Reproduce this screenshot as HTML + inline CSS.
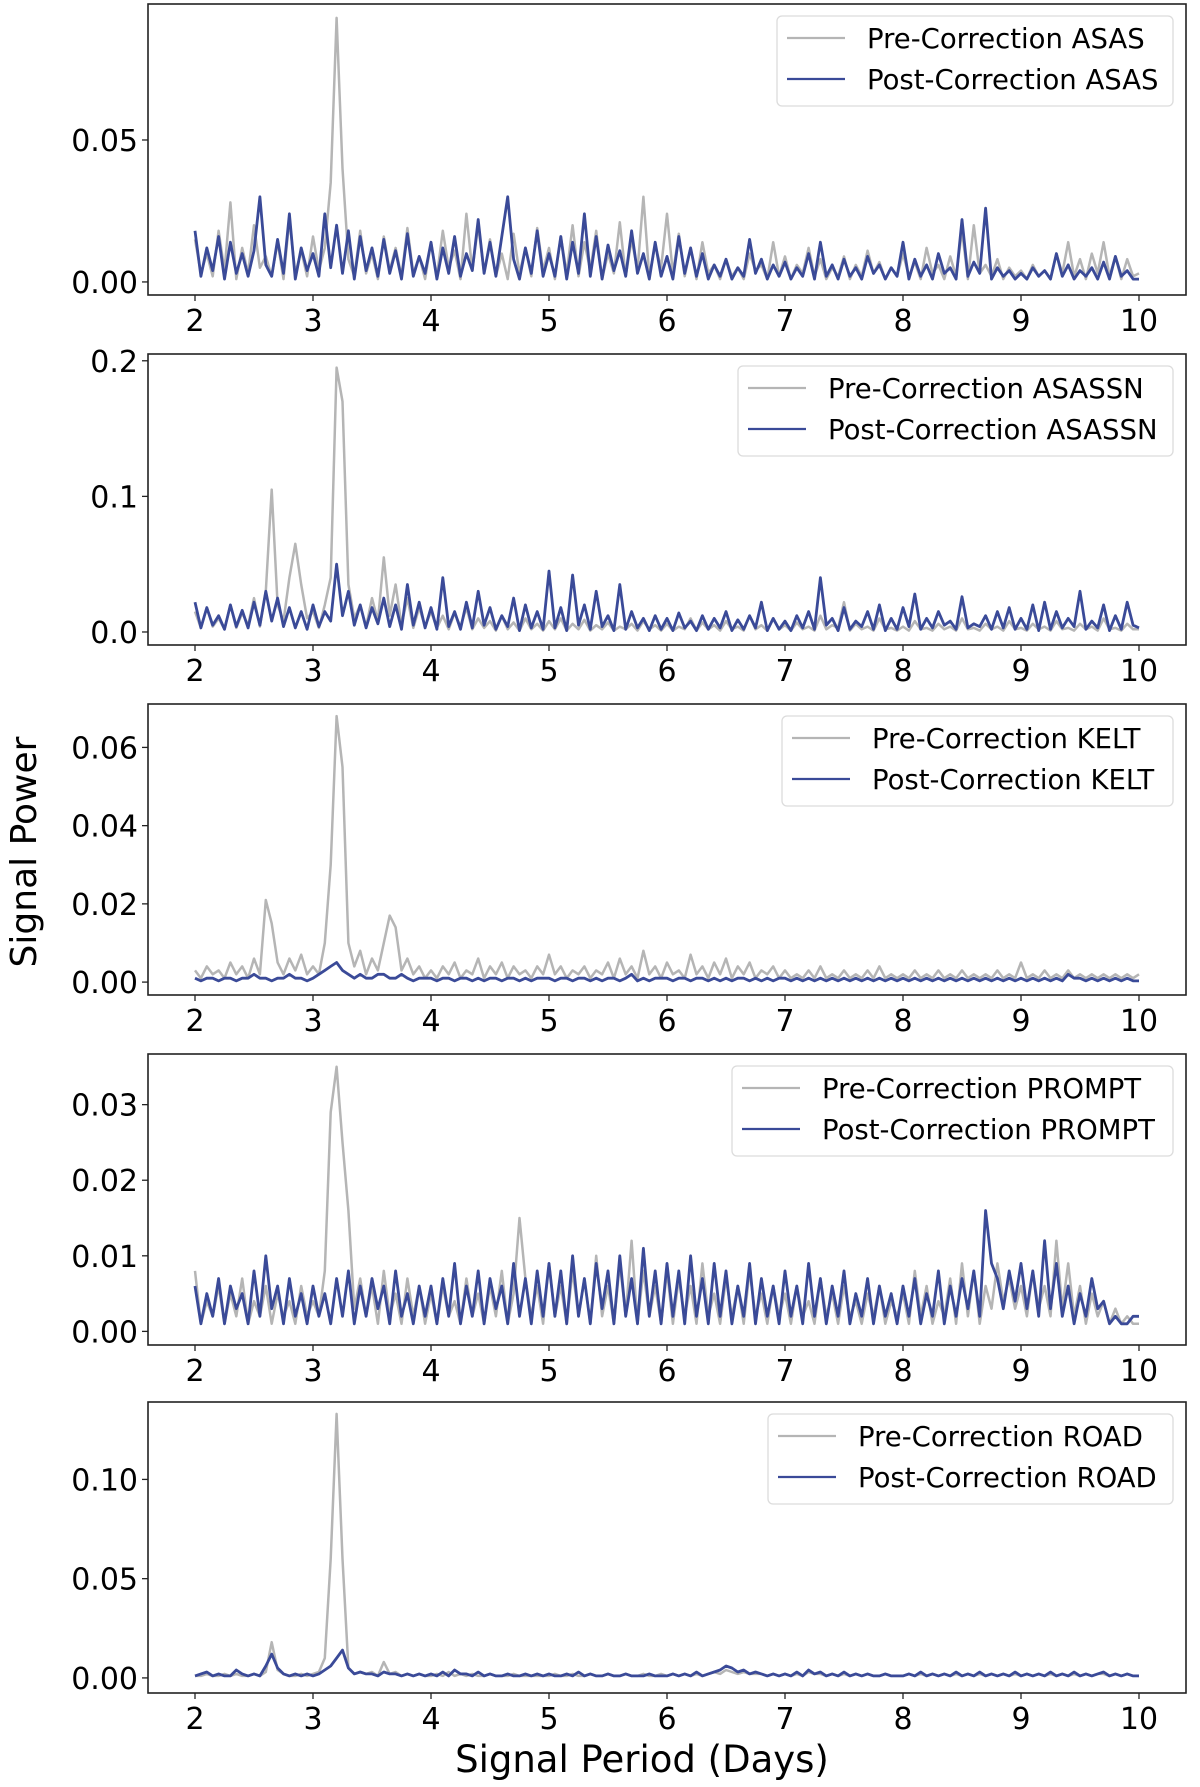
<!DOCTYPE html>
<html><head><meta charset="utf-8"><style>
html,body{margin:0;padding:0;background:#fff;}
svg{display:block;font-family:"DejaVu Sans","Liberation Sans",sans-serif;}
</style></head><body>
<svg id="fig" width="1200" height="1787" viewBox="0 0 1200 1787" xmlns="http://www.w3.org/2000/svg">
<text x="0" y="0" transform="translate(36,852) rotate(-90)" text-anchor="middle" font-size="36" fill="#000">Signal Power</text>
<text x="642" y="1772" text-anchor="middle" font-size="37" fill="#000">Signal Period (Days)</text>
</svg>
<script>
// values in units of 1e-3 (multiplied by UNIT), sampled at periods 2.00..10.00 step 0.05
const UNIT = 0.001;
const periodStart = 2, periodStep = 0.05;
const xTicks = [2,3,4,5,6,7,8,9,10];

const asasPre = [15,3,10,2,18,4,28,1,12,3,20,5,9,2,14,1,22,3,11,2,
16,4,12,35,93,40,8,2,18,3,10,1,16,4,12,2,19,3,9,1,
14,2,18,5,11,1,24,4,20,3,15,2,10,1,17,3,12,2,19,4,
12,1,16,3,20,2,14,4,18,1,10,3,21,2,15,4,30,2,13,5,
24,3,17,2,12,1,14,3,6,1,8,2,5,1,10,4,6,1,14,2,
9,1,6,3,12,2,8,1,5,2,9,1,6,2,11,3,7,1,5,2,
10,2,7,1,12,3,6,1,9,2,18,1,20,3,6,2,8,1,5,2,
4,1,6,2,4,1,10,3,14,2,8,1,10,3,14,2,9,1,8,2,3];
const asasPost = [18,2,12,4,16,1,14,3,10,2,11,30,6,2,15,3,24,1,12,4,
10,2,24,5,20,3,18,1,16,4,12,2,15,3,11,1,17,2,9,3,
14,1,12,3,16,2,10,4,22,3,14,2,16,30,8,1,12,3,18,2,
10,2,16,1,14,3,24,2,16,1,13,4,11,2,18,3,10,1,14,2,
9,1,16,3,12,2,10,1,6,2,8,1,5,2,15,3,8,1,6,2,
7,1,5,2,10,1,14,2,6,1,8,2,5,1,9,3,6,1,5,2,
14,1,8,2,6,1,10,3,5,1,22,2,7,3,26,1,5,2,4,1,
3,1,5,2,4,1,10,2,6,1,4,2,5,1,7,1,9,2,4,1,1];
const asassnPre = [15,3,18,4,10,2,20,3,14,5,25,4,30,105,20,8,40,65,35,10,
15,3,20,40,195,170,35,10,20,4,25,8,55,12,35,5,25,3,18,4,
15,3,12,2,14,4,18,2,10,3,8,1,12,2,7,1,10,2,6,1,
8,2,10,1,6,2,9,1,5,2,7,1,4,2,6,1,8,2,5,1,
6,1,4,2,10,1,7,2,5,1,8,2,4,1,12,2,5,1,10,2,
5,1,7,2,4,1,12,2,5,3,22,1,6,2,4,1,10,2,3,1,
4,1,8,2,3,1,6,2,4,1,10,2,3,1,6,2,4,1,8,2,
3,1,6,2,4,1,8,2,3,1,6,2,4,1,10,2,3,1,6,2,2];
const asassnPost = [22,3,18,5,12,2,20,4,16,3,22,5,30,8,25,4,18,3,15,2,
20,4,15,8,50,12,30,5,20,3,18,6,25,4,20,2,35,5,22,3,
18,2,40,4,15,2,22,3,30,5,18,2,12,4,25,1,20,3,15,2,
45,3,18,1,42,5,20,2,30,4,12,1,35,2,15,3,10,1,12,2,
10,1,14,3,8,1,12,2,10,3,15,1,9,2,12,3,22,1,10,2,
8,1,12,3,15,2,40,5,10,1,18,2,8,4,15,2,20,1,10,2,
18,4,28,2,10,3,15,5,8,2,26,3,6,4,12,2,15,3,18,2,
10,2,20,1,22,2,15,3,10,4,30,2,8,3,20,1,12,2,22,5,3];
const keltPre = [3,1,4,2,3,1,5,2,4,1,6,2,21,15,5,2,6,3,7,2,
4,2,10,30,68,55,10,4,8,2,6,3,10,17,14,3,6,2,4,1,
3,1,4,2,5,1,3,2,6,1,4,2,5,1,4,2,3,1,4,2,
7,2,4,1,3,2,4,1,3,2,5,1,6,2,4,1,8,2,4,1,
5,2,3,1,7,2,4,1,5,2,6,1,4,2,5,1,3,2,4,1,
3,1,2,1,3,1,4,1,2,1,3,1,2,1,3,1,4,1,2,1,
2,1,3,1,2,1,3,1,2,1,3,1,2,1,2,1,3,1,2,1,
5,1,2,1,3,1,2,1,3,1,2,1,2,1,2,1,2,1,2,1,2];
const keltPost = [1,0.3,1,1,0.3,1,1,0.3,1,1,2,1,1,0.3,1,1,2,1,1,0.3,
1,2,3,4,5,3,2,1,2,1,1,2,2,1,1,2,1,0.3,1,1,
1,0.3,1,1,0.3,1,1,0.3,1,0.3,1,1,0.3,1,1,0.3,1,0.3,1,1,
1,0.3,1,1,0.3,1,1,0.3,1,0.3,1,1,0.3,1,2,0.3,1,0.3,1,1,
1,0.3,1,1,0.3,1,1,0.3,1,0.3,1,0.3,1,1,0.3,1,0.3,1,0.3,1,
1,0.3,1,0.3,1,0.3,1,0.3,1,0.3,1,0.3,1,0.3,1,0.3,1,0.3,1,0.3,
1,0.3,1,0.3,1,0.3,1,0.3,1,0.3,1,0.3,1,0.3,1,0.3,1,0.3,1,0.3,
1,0.3,1,0.3,1,0.3,1,0.3,2,1,1,0.3,1,0.3,1,0.3,1,0.3,1,0.3,0.3];
const promptPre = [8,1,4,2,6,1,5,2,7,1,4,2,6,1,5,2,4,1,6,2,
4,2,8,29,35,25,16,3,7,2,6,1,8,2,5,1,7,2,6,1,
5,1,6,2,4,1,7,2,5,1,6,2,8,1,5,15,7,2,6,1,
9,2,6,1,8,2,7,1,10,2,6,1,9,2,12,1,8,2,6,1,
8,1,7,2,6,1,9,2,5,1,7,2,6,1,8,2,5,1,6,2,
5,1,6,2,4,1,7,2,5,1,6,2,4,1,5,2,6,1,4,2,
5,1,8,2,6,1,4,2,7,1,9,2,8,1,6,3,9,4,7,3,
6,2,8,3,6,2,12,3,9,2,6,1,5,2,4,1,3,1,2,1,1];
const promptPost = [6,1,5,2,7,1,6,3,5,1,8,2,10,3,6,1,7,2,5,1,
6,2,5,1,7,2,8,1,6,2,7,3,6,1,8,2,5,1,6,2,
6,1,7,2,9,1,6,2,8,1,7,3,6,1,9,2,7,1,8,2,
9,2,8,1,10,2,7,1,9,3,8,1,10,2,7,1,11,2,8,1,
9,2,8,1,10,2,7,1,9,2,8,1,6,2,9,1,7,2,6,1,
8,2,6,1,9,2,7,1,6,2,8,1,5,2,7,1,6,2,5,1,
6,2,7,1,5,2,8,1,6,2,7,3,8,2,16,9,7,3,8,4,
9,3,8,2,12,3,9,2,6,1,5,2,7,3,4,1,2,1,1,2,2];
const roadPre = [1,1,2,1,1,2,1,2,1,1,2,1,3,18,4,2,1,1,2,1,
2,3,10,60,133,60,5,2,3,2,3,1,8,2,3,1,2,1,2,1,
1,2,1,3,1,2,1,2,1,1,2,1,1,1,2,1,1,1,1,1,
1,2,1,1,2,1,1,2,1,1,2,1,1,2,1,1,2,1,1,2,
1,2,1,2,1,2,1,2,3,2,4,3,2,3,2,2,2,1,2,1,
2,1,2,1,3,2,2,1,2,1,2,1,2,1,2,1,1,2,1,1,
1,2,1,2,1,2,1,2,1,2,1,2,1,2,1,2,1,2,1,2,
1,2,1,2,1,2,1,2,1,2,1,2,1,2,2,1,2,1,2,1,1];
const roadPost = [1,2,3,1,2,1,1,4,2,1,2,1,6,12,5,2,1,2,1,2,
1,2,4,6,10,14,5,2,3,2,2,1,3,2,2,1,2,1,2,1,
2,1,3,1,4,2,2,1,3,1,2,1,1,2,1,1,2,1,2,1,
2,1,1,2,1,3,1,2,1,1,2,1,1,2,1,1,1,2,1,1,
1,2,1,2,1,3,1,2,3,4,6,5,3,4,2,3,2,1,2,1,
2,1,3,1,4,2,3,1,2,1,3,1,2,1,2,1,1,2,1,1,
1,2,1,3,1,2,1,2,1,3,1,2,1,3,1,2,1,2,1,3,
1,2,1,2,1,3,1,2,1,3,1,2,1,2,3,1,2,1,2,1,1];

const asasTicks = [0, 0.05], asasTickLabels = ["0.00","0.05"];
const asassnTicks = [0, 0.1, 0.2], asassnTickLabels = ["0.0","0.1","0.2"];
const keltTicks = [0,0.02,0.04,0.06], keltTickLabels = ["0.00","0.02","0.04","0.06"];
const promptTicks = [0,0.01,0.02,0.03], promptTickLabels = ["0.00","0.01","0.02","0.03"];
const roadTicks = [0,0.05,0.10], roadTickLabels = ["0.00","0.05","0.10"];

const panels = [
 {name:"ASAS", pre:asasPre, post:asasPost, ymin:-0.0046, ymax:0.0979, ticks:asasTicks, labels:asasTickLabels, top:4, legL:777},
 {name:"ASASSN", pre:asassnPre, post:asassnPost, ymin:-0.0096, ymax:0.205, ticks:asassnTicks, labels:asassnTickLabels, top:354, legL:738},
 {name:"KELT", pre:keltPre, post:keltPost, ymin:-0.0033, ymax:0.0711, ticks:keltTicks, labels:keltTickLabels, top:704, legL:782},
 {name:"PROMPT", pre:promptPre, post:promptPost, ymin:-0.0018, ymax:0.0367, ticks:promptTicks, labels:promptTickLabels, top:1054, legL:732},
 {name:"ROAD", pre:roadPre, post:roadPost, ymin:-0.0076, ymax:0.139, ticks:roadTicks, labels:roadTickLabels, top:1402, legL:768}
];

const NS = "http://www.w3.org/2000/svg";
const svg = document.getElementById('fig');
const AX_L = 148, AX_R = 1186, PH = 291;
const X0 = 195, X1 = 1139; // pixel of period 2 and 10
function xScale(p){ return X0 + (p-2)*(X1-X0)/8; }
function mk(tag, attrs, parent){ const e=document.createElementNS(NS,tag); for(const k in attrs) e.setAttribute(k, attrs[k]); (parent||svg).appendChild(e); return e; }

panels.forEach((P, pi) => {
  const top = P.top, bot = top + PH;
  const yScale = v => bot - (v - P.ymin) / (P.ymax - P.ymin) * PH;
  const g = mk('g', {});
  
  
  const clipId = 'clip' + pi;
  const cp = mk('clipPath', {id: clipId}, g);
  mk('rect', {x:AX_L, y:top, width:AX_R-AX_L, height:PH}, cp);

  [['pre', P.pre, '#b5b5b5', 2.5], ['post', P.post, '#3a4a98', 2.8]].forEach(([kind, arr, col, sw]) => {
    let d = '';
    arr.forEach((v, i) => {
      const x = xScale(periodStart + i*periodStep), y = yScale(v*UNIT);
      d += (i ? 'L' : 'M') + x.toFixed(1) + ' ' + y.toFixed(1);
    });
    const path = mk('path', {d: d, fill:'none', stroke:col, 'stroke-width':sw, 'stroke-linejoin':'round', 'clip-path':'url(#'+clipId+')'}, g);
    
    
  });

  const frame = mk('rect', {x:AX_L, y:top, width:AX_R-AX_L, height:PH, fill:'none', stroke:'#222', 'stroke-width':1.6}, g);
  
  

  xTicks.forEach(t => {
    const x = xScale(t);
    mk('line', {x1:x, y1:bot, x2:x, y2:bot+6, stroke:'#222', 'stroke-width':1.3}, g);
    const tx = mk('text', {x:x, y:bot+36, 'text-anchor':'middle', 'font-size':30, fill:'#000'}, g);
    
    
    tx.textContent = String(t);
  });
  P.ticks.forEach((t, i) => {
    const y = yScale(t);
    mk('line', {x1:AX_L-6, y1:y, x2:AX_L, y2:y, stroke:'#222', 'stroke-width':1.3}, g);
    const ty = mk('text', {x:AX_L-10, y:y+11, 'text-anchor':'end', 'font-size':30, fill:'#000'}, g);
    
    
    ty.textContent = P.labels[i];
  });

  const lg = mk('g', {}, g);
  
  
  const lt = top + 12, ll = P.legL;
  mk('rect', {x:ll, y:lt, width:1173-ll, height:90, rx:5, fill:'#fff', stroke:'#dcdcdc', 'stroke-width':1.3}, lg);
  [['Pre-Correction ', '#b5b5b5', 22], ['Post-Correction ', '#3a4a98', 63]].forEach(([lab, col, dy]) => {
    mk('line', {x1:ll+10, y1:lt+dy, x2:ll+68, y2:lt+dy, stroke:col, 'stroke-width':2.2}, lg);
    const t = mk('text', {x:ll+90, y:lt+dy+10, 'font-size':27.5, fill:'#000'}, lg);
    
    
    t.textContent = lab + P.name;
  });
});
</script>
</body></html>
